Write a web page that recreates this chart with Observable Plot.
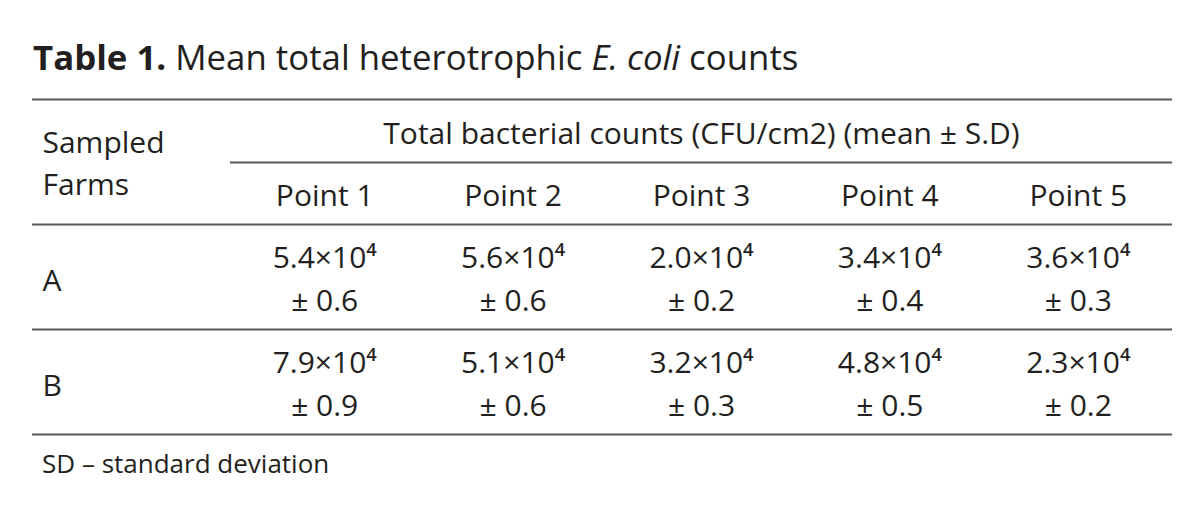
<!DOCTYPE html>
<html>
<head>
<meta charset="utf-8">
<script src="https://cdn.jsdelivr.net/npm/d3@7"></script>
<script src="https://cdn.jsdelivr.net/npm/@observablehq/plot@0.6"></script>
<style>
  html, body { margin: 0; padding: 0; background: #fff; }
  body { position: relative; width: 1200px; height: 507px; overflow: hidden; font-family: "Open Sans", sans-serif; color: #231f20; }
  #title { position: absolute; left: 33px; top: 40px; font-size: 34.8px; line-height: 1; white-space: nowrap; }
  #title b { font-weight: 700; }
  #chart { position: absolute; left: 0; top: 90px; }
  #footer { position: absolute; left: 42px; top: 449.5px; font-size: 26px; line-height: 1; white-space: nowrap; }
</style>
</head>
<body>
<div id="title"><b>Table 1.</b> Mean total heterotrophic <i>E. coli</i> counts</div>
<div id="chart"></div>
<div id="footer">SD – standard deviation</div>
<script>
// ---- data ----
const farms = ["A", "B"];
const points = ["Point 1", "Point 2", "Point 3", "Point 4", "Point 5"];
const meanA = [5.4, 5.6, 2.0, 3.4, 3.6];
const sdA = [0.6, 0.6, 0.2, 0.4, 0.3];
const meanB = [7.9, 5.1, 3.2, 4.8, 2.3];
const sdB = [0.9, 0.6, 0.3, 0.5, 0.2];
const exponent = 4;
const groupHeader = "Total bacterial counts (CFU/cm2) (mean ± S.D)";
const rowHeader = ["Sampled", "Farms"];

// ---- build cell table ----
const sup = {"0":"⁰","1":"¹","2":"²","3":"³","4":"⁴","5":"⁵","6":"⁶","7":"⁷","8":"⁸","9":"⁹"};
const fmt = d3.format(".1f");
const means = [meanA, meanB];
const sds = [sdA, sdB];
const cells = [];
farms.forEach((f, r) => {
  points.forEach((p, c) => {
    cells.push({farm: r, col: c, line: 0, text: `${fmt(means[r][c])}×10${String(exponent).split("").map(ch => sup[ch]).join("")}`});
    cells.push({farm: r, col: c, line: 1, text: `± ${fmt(sds[r][c])}`});
  });
});

// ---- layout (page y coordinates) ----
const FS = 30;
const mid = (baseline, fs = FS) => baseline - 0.32 * fs;
const topRule = 99, subRule = 162, bodyTop = 224, rowH = 105;
const rowTop = i => bodyTop + rowH * i;

const chart = Plot.plot({
  width: 1200,
  height: 360,
  marginLeft: 32,
  marginRight: 28,
  marginTop: 0,
  marginBottom: 0,
  x: {type: "linear", domain: [0, points.length], range: [230, 1172], axis: null},
  y: {type: "linear", domain: [90, 450], range: [0, 360], axis: null},
  style: {fontFamily: "'Open Sans', sans-serif", color: "#231f20", background: "transparent", overflow: "visible"},
  marks: [
    // rules
    Plot.ruleY([topRule], {stroke: "#58595b", strokeWidth: 2}),
    Plot.ruleY([subRule], {x1: 0, x2: points.length, stroke: "#58595b", strokeWidth: 2}),
    Plot.ruleY(farms.map((f, i) => rowTop(i)).concat([rowTop(farms.length)]), {y: d => d, stroke: "#58595b", strokeWidth: 2}),
    // group header
    Plot.text([groupHeader], {x: points.length / 2, y: mid(143), fontSize: FS, fill: "#231f20"}),
    // row header
    Plot.text(rowHeader, {frameAnchor: "left", dx: 10, y: (d, i) => mid(152 + 42 * i), textAnchor: "start", fontSize: FS, fill: "#231f20"}),
    // column labels
    Plot.text(points, {x: (d, i) => i + 0.5, y: mid(205), fontSize: FS, fill: "#231f20"}),
    // farm labels
    Plot.text(farms, {frameAnchor: "left", dx: 10, y: (d, i) => mid(rowTop(i) + 66), textAnchor: "start", fontSize: FS, fill: "#231f20"}),
    // values
    Plot.text(cells, {x: d => d.col + 0.5, y: d => mid(rowTop(d.farm) + 43 + 43 * d.line), text: "text", fontSize: FS, fill: "#231f20"})
  ]
});
document.getElementById("chart").appendChild(chart);
</script>
</body>
</html>
